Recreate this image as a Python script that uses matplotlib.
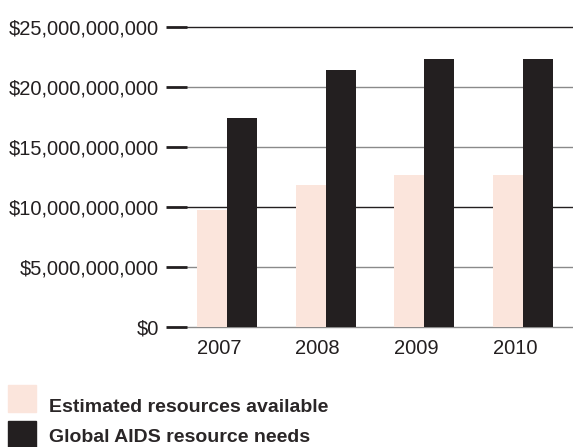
import numpy as np
import matplotlib
matplotlib.use("Agg")
import matplotlib.pyplot as plt
from matplotlib.patches import Rectangle
from matplotlib.ticker import FuncFormatter

# data
years = ["2007", "2008", "2009", "2010"]
available = [9.75e9, 11.8e9, 12.7e9, 12.7e9]
needs = [17.4e9, 21.4e9, 22.3e9, 22.3e9]
series_labels = ["Estimated resources available", "Global AIDS resource needs"]
yticks = [0, 5e9, 10e9, 15e9, 20e9, 25e9]

light = "#fbe5dc"
dark = "#231f20"
grid_colors = ["#8a8a8a", "#8a8a8a", dark, "#8a8a8a", "#8a8a8a", dark]

plt.rcParams["font.family"] = ["Liberation Sans", "DejaVu Sans"]

fig = plt.figure(figsize=(5.73, 4.47), dpi=100)
W, H = 573, 447
ax = fig.add_axes([187 / W, 1 - 327 / H, 1 - 187 / W, (327 - 27) / H])

x = np.arange(len(years))
bw = 0.304
ax.bar(x - bw / 2, available, width=bw, color=light, zorder=3)
ax.bar(x + bw / 2, needs, width=bw, color=dark, zorder=3)

ax.set_xlim(-0.405, 3.506)
ax.set_ylim(0, 25e9)
ax.set_yticks(yticks)
ax.yaxis.set_major_formatter(FuncFormatter(lambda v, p: "${:,.0f}".format(v)))
ax.set_xticks(x - 0.08)
ax.set_xticklabels(years)

for s in ax.spines.values():
    s.set_visible(False)

ax.tick_params(axis="y", length=15, width=2.0, color=dark, pad=5,
               labelsize=14.5, labelcolor="#231f20")
ax.tick_params(axis="x", length=0, pad=9, labelsize=14.5, labelcolor="#231f20")

ax.yaxis.grid(True, linewidth=1.0, zorder=0)
ax.set_axisbelow(True)
for gl, c in zip(ax.get_ygridlines(), grid_colors):
    gl.set_color(c)
    gl.set_clip_on(False)

# legend drawn by hand, swatches stacked at lower left
swatch_tops = [385, 421]
text_baselines = [412, 442]
for lab, col, top, base in zip(series_labels, [light, dark], swatch_tops, text_baselines):
    fig.add_artist(Rectangle((8 / W, 1 - (top + 27) / H), 28 / W, 27 / H,
                             transform=fig.transFigure, color=col))
    fig.text(49 / W, 1 - base / H, lab, fontsize=14, fontweight="bold",
             color="#2a2627", va="baseline", ha="left")

fig.savefig("out.png", dpi=100)
